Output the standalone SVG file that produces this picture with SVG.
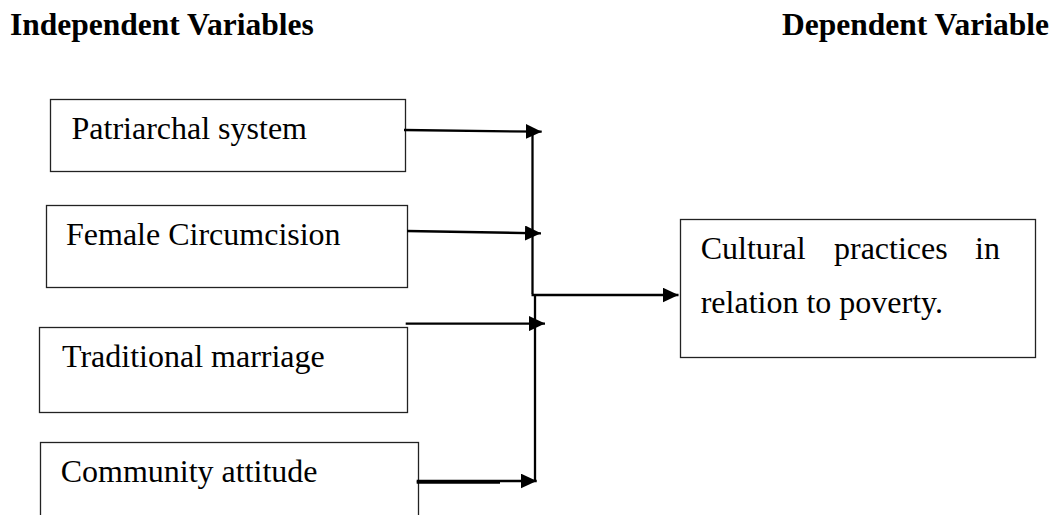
<svg xmlns="http://www.w3.org/2000/svg" width="1057" height="515" viewBox="0 0 1057 515">
<style>
.box{fill:#fff;stroke:#222;stroke-width:1.3}
.t{font-family:"Liberation Serif","Times New Roman",serif;font-size:32px;fill:#000}
.h{font-family:"Liberation Serif","Times New Roman",serif;font-size:31.5px;font-weight:bold;fill:#000}
.c{fill:none;stroke:#000;stroke-width:2.3}
</style>
<defs>
<marker id="ah" viewBox="0 0 16 15" refX="16" refY="7.5" markerWidth="16" markerHeight="15" markerUnits="userSpaceOnUse" orient="auto">
<path d="M0,0 L16,7.5 L0,15 Z" fill="#000"/>
</marker>
</defs>
<rect width="1057" height="515" fill="#fff"/>
<g id="headers">
<text class="h" x="10" y="35">Independent Variables</text>
<text class="h" x="782" y="35">Dependent Variable</text>
</g>
<g id="node-patriarchal">
<rect class="box" x="50.5" y="99.5" width="355" height="72"/>
<text class="t" x="71.5" y="139.3">Patriarchal system</text>
</g>
<g id="node-female">
<rect class="box" x="46.5" y="205.5" width="361" height="82"/>
<text class="t" x="66" y="245">Female Circumcision</text>
</g>
<g id="node-traditional">
<rect class="box" x="39.5" y="327.5" width="368" height="85"/>
<text class="t" x="62" y="366.5">Traditional marriage</text>
</g>
<g id="node-community">
<rect class="box" x="40.5" y="442.5" width="378" height="90"/>
<text class="t" x="60.7" y="482.3">Community attitude</text>
</g>
<g id="node-cultural">
<rect class="box" x="680.5" y="219.5" width="355" height="138"/>
<text class="t" y="259.3"><tspan x="700.7">Cultural</tspan><tspan x="834">practices</tspan><tspan x="975">in</tspan></text>
<text class="t" x="700.7" y="312.7">relation to poverty.</text>
</g>
<g id="connectors">
<path class="c" d="M404,130 L541.7,131.7" marker-end="url(#ah)"/>
<path class="c" d="M407,231 L541,233.3" marker-end="url(#ah)"/>
<path class="c" d="M405.7,323.6 L545,323.6" marker-end="url(#ah)"/>
<path class="c" d="M416.7,481 L536.7,481" marker-end="url(#ah)"/>
<path class="c" d="M416.7,482.6 L500,482.6" stroke-width="1.2"/>
<path class="c" d="M532.5,131 L532.5,294"/>
<path class="c" d="M535,295 L535,481" stroke-width="1.6"/>
<path class="c" d="M531.5,295 L678.5,295" stroke-width="3.2" marker-end="url(#ah)"/>
</g>
</svg>
